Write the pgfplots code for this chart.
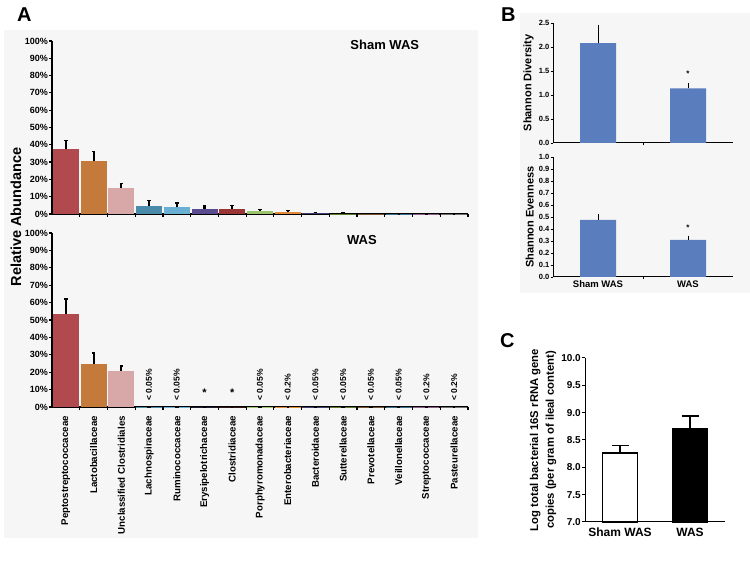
\documentclass[border=0pt]{standalone}
\usepackage{fontspec}
\setmainfont{Liberation Sans}
\usepackage{pgfplots}
\pgfplotsset{compat=1.18}

\definecolor{cPep}{HTML}{B04A4F}
\definecolor{cLac}{HTML}{C47A3A}
\definecolor{cUnc}{HTML}{D8A7A7}
\definecolor{cLach}{HTML}{4A8BAA}
\definecolor{cRum}{HTML}{6AB0D4}
\definecolor{cEry}{HTML}{5A4A90}
\definecolor{cClo}{HTML}{9A3535}
\definecolor{cPor}{HTML}{9CC46A}
\definecolor{cEnt}{HTML}{E08A3A}
\definecolor{cBac}{HTML}{3E3E70}
\definecolor{cSut}{HTML}{5C7A2E}
\definecolor{cPre}{HTML}{7A5230}
\definecolor{cVei}{HTML}{3A6E8F}
\definecolor{cStr}{HTML}{8E5A8E}
\definecolor{cPas}{HTML}{6E6E6E}
\definecolor{shan}{HTML}{5A7DBE}
\definecolor{panelbg}{HTML}{F6F6F6}

\newcommand{\fs}[1]{\bfseries\fontsize{#1}{#1}\selectfont}

% one coloured bar with an upward error bar
\newcommand{\abar}[4]{%
  \addplot[ybar, bar width=0.94, bar shift=0pt, fill=#1, draw=none,
    error bars/.cd, y dir=plus, y explicit,
    error bar style={line width=2.2pt, black},
    error mark options={rotate=90, line width=1.5pt, mark size=1.8pt, black}]
    coordinates {(#2,#3) +- (0,#4)};}
% rotated note under a WAS bar
\newcommand{\lt}[2]{\node[font=\fs{8.5}, rotate=90, anchor=west, inner sep=0pt] at (axis cs:#1,3.6) {#2};}

\pgfplotsset{
  panelA/.style={
    scale only axis, anchor=south west, width=416pt,
    xmin=0.5, xmax=15.5, ymin=0, ymax=100,
    axis lines=left, axis line style={line width=1.3pt, -},
    /pgf/number format/assume math mode=true,
    ytick={0,10,...,100}, yticklabel={\pgfmathprintnumber{\tick}\%},
    yticklabel style={font=\fs{9}, inner sep=1pt},
    tick align=outside, major tick length=3pt, minor tick length=3pt,
    ytick style={line width=1.2pt, black},
    xtick={1,...,15}, major x tick style={draw=none},
    minor xtick={1.5,2.5,...,15.5}, minor x tick style={line width=1.2pt, black},
    clip=false,
  },
  panelB/.style={
    scale only axis, anchor=south west, width=180pt, height=120pt,
    xmin=0.5, xmax=2.5, ymin=0,
    axis lines=left, axis line style={line width=1pt, -},
    /pgf/number format/assume math mode=true,
    /pgf/number format/.cd, fixed, fixed zerofill, precision=1, /pgfplots/.cd,
    yticklabel style={font=\fs{7.5}, inner sep=1pt},
    tick align=outside, major tick length=2.5pt, minor tick length=2.5pt,
    ytick style={line width=0.8pt, black},
    xtick={1,2}, major x tick style={draw=none},
    minor xtick={1.5}, minor x tick style={line width=0.8pt, black},
    ylabel style={font=\fs{11}, inner sep=1pt, yshift=3pt},
    clip=false,
  },
}

\begin{document}
\begin{tikzpicture}[x=1pt, y=1pt]
\path[use as bounding box] (0,0) rectangle (750,565);
\fill[panelbg] (4,27) rectangle (478,535);
\fill[panelbg] (520,272) rectangle (750,552);

\node[font=\fs{20}, anchor=north west, inner sep=0pt] at (17,557) {A};
\node[font=\fs{20}, anchor=north west, inner sep=0pt] at (501,557) {B};
\node[font=\fs{20}, anchor=north west, inner sep=0pt] at (500,232) {C};
\node[font=\fs{14.5}, rotate=90] at (16,348) {Relative Abundance};

% ---- A: Sham WAS
\begin{axis}[panelA, at={(52pt,351pt)}, height=173pt, xticklabels={}]
  \abar{cPep}{1}{37.3}{5.2}
  \abar{cLac}{2}{30.4}{5.7}
  \abar{cUnc}{3}{15.0}{2.5}
  \abar{cLach}{4}{4.8}{3.1}
  \abar{cRum}{5}{3.8}{2.7}
  \abar{cEry}{6}{3.1}{1.5}
  \abar{cClo}{7}{2.9}{2.1}
  \abar{cPor}{8}{1.7}{0.8}
  \abar{cEnt}{9}{1.1}{1.0}
  \abar{cBac}{10}{0.3}{0.6}
  \abar{cSut}{11}{0.15}{0.35}
  \abar{cPre}{12}{0.05}{0.25}
  \abar{cVei}{13}{0.05}{0.2}
  \abar{cStr}{14}{0.05}{0.2}
  \abar{cPas}{15}{0.05}{0.2}
  \node[font=\fs{13}] at (rel axis cs:0.80,0.975) {Sham WAS};
\end{axis}

% ---- A: WAS
\begin{axis}[panelA, at={(52pt,158pt)}, height=174pt,
  xticklabels={Peptostreptococcaceae, Lactobacillaceae, Unclassified Clostridiales,
    Lachnospiraceae, Ruminococcaceae, Erysipelotrichaceae, Clostridiaceae,
    Porphyromonadaceae, Enterobacteriaceae, Bacteroidaceae, Sutterellaceae,
    Prevotellaceae, Veillonellaceae, Streptococcaceae, Pasteurellaceae},
  xticklabel style={font=\fs{9.7}, rotate=90, anchor=east, inner sep=1pt, xshift=-5pt}]
  \abar{cPep}{1}{53.5}{8.7}
  \abar{cLac}{2}{24.5}{6.4}
  \abar{cUnc}{3}{20.9}{2.8}
  \abar{cLach}{4}{0.02}{0}
  \abar{cRum}{5}{0.02}{0}
  \abar{cEry}{6}{0.01}{0}
  \abar{cClo}{7}{0.01}{0.2}
  \abar{cPor}{8}{0.02}{0}
  \abar{cEnt}{9}{0.1}{0.1}
  \abar{cBac}{10}{0.02}{0}
  \abar{cSut}{11}{0.02}{0}
  \abar{cPre}{12}{0.02}{0}
  \abar{cVei}{13}{0.02}{0}
  \abar{cStr}{14}{0.1}{0.1}
  \abar{cPas}{15}{0.1}{0.1}
  \lt{4}{< 0.05\%}
  \lt{5}{< 0.05\%}
  \lt{8}{< 0.05\%}
  \lt{9}{< 0.2\%}
  \lt{10}{< 0.05\%}
  \lt{11}{< 0.05\%}
  \lt{12}{< 0.05\%}
  \lt{13}{< 0.05\%}
  \lt{14}{< 0.2\%}
  \lt{15}{< 0.2\%}
  \node[font=\fs{11}] at (axis cs:6,8) {*};
  \node[font=\fs{11}] at (axis cs:7,8) {*};
  \node[font=\fs{13}] at (rel axis cs:0.745,0.96) {WAS};
\end{axis}

% ---- B: Shannon diversity
\begin{axis}[panelB, at={(553pt,422pt)}, ymax=2.5, ytick={0,0.5,...,2.5},
  xticklabels={}, ylabel={Shannon Diversity}]
  \addplot[ybar, bar width=0.4, bar shift=0pt, fill=shan, draw=none,
    error bars/.cd, y dir=plus, y explicit,
    error bar style={line width=1pt, black}, error mark=none]
    coordinates {(1,2.08) +- (0,0.38) (2,1.14) +- (0,0.11)};
  \node[font=\fs{8}] at (axis cs:2,1.44) {*};
\end{axis}

% ---- B: Shannon evenness
\begin{axis}[panelB, at={(553pt,288pt)}, ymax=1.0, ytick={0,0.1,...,1.0},
  xticklabels={Sham WAS, WAS}, ylabel={Shannon Evenness},
  xticklabel style={font=\fs{9.5}, inner sep=1pt}]
  \addplot[ybar, bar width=0.4, bar shift=0pt, fill=shan, draw=none,
    error bars/.cd, y dir=plus, y explicit,
    error bar style={line width=1pt, black}, error mark=none]
    coordinates {(1,0.475) +- (0,0.05) (2,0.31) +- (0,0.035)};
  \node[font=\fs{8}] at (axis cs:2,0.41) {*};
\end{axis}

% ---- C: total bacterial load
\begin{axis}[scale only axis, anchor=south west, at={(585pt,43pt)}, width=140pt, height=164pt,
  xmin=0.5, xmax=2.5, ymin=7, ymax=10,
  axis lines=left, axis line style={line width=1pt, -},
  /pgf/number format/assume math mode=true,
  /pgf/number format/.cd, fixed, fixed zerofill, precision=1, /pgfplots/.cd,
  ytick={7,7.5,...,10}, yticklabel style={font=\fs{10}, inner sep=1pt},
  tick align=outside, major tick length=3pt, ytick style={line width=1pt, black},
  xtick={1,2}, xticklabels={Sham WAS, WAS}, major x tick style={draw=none},
  xticklabel style={font=\fs{12}, inner sep=1pt, yshift=-2pt},
  ylabel={\begin{tabular}{@{}c@{}}Log total bacterial 16S rRNA gene\\[4pt]copies (per gram of ileal content)\end{tabular}},
  ylabel style={font=\fs{11.3}, inner sep=1pt, yshift=2pt},
  clip=false]
  \addplot[ybar, bar width=0.5, bar shift=0pt, fill=white, draw=black, line width=1.3pt,
    error bars/.cd, y dir=plus, y explicit,
    error bar style={line width=1.2pt, black},
    error mark options={rotate=90, line width=1.2pt, mark size=8.5pt, black}]
    coordinates {(1,8.26) +- (0,0.14)};
  \addplot[ybar, bar width=0.5, bar shift=0pt, fill=black, draw=black, line width=1.3pt,
    error bars/.cd, y dir=plus, y explicit,
    error bar style={line width=1.2pt, black},
    error mark options={rotate=90, line width=1.2pt, mark size=8.5pt, black}]
    coordinates {(2,8.71) +- (0,0.23)};
\end{axis}
\end{tikzpicture}
\end{document}
